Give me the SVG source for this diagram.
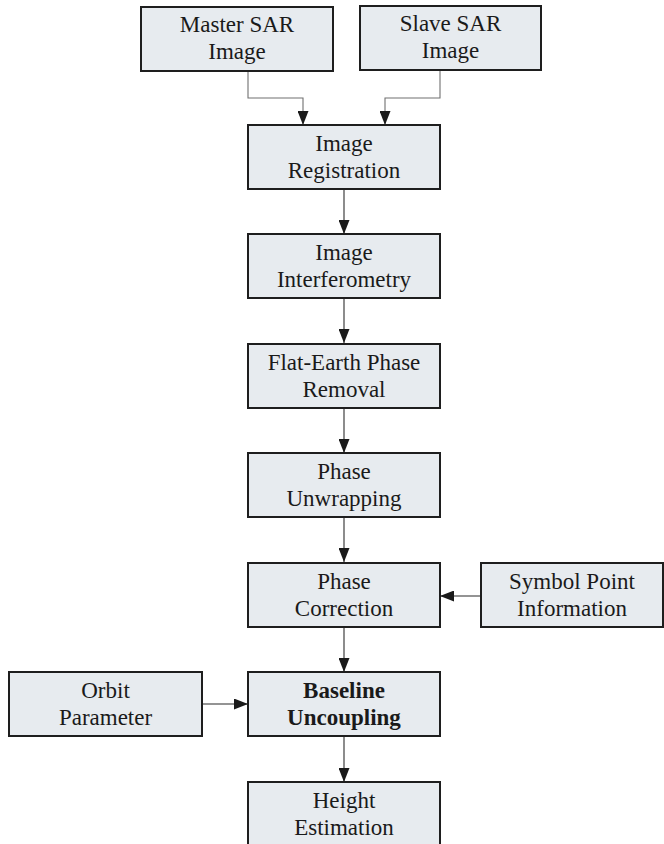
<svg xmlns="http://www.w3.org/2000/svg" width="664" height="844" viewBox="0 0 664 844">
<style>
.box{fill:#e7ebef;stroke:#1e1e1e;stroke-width:2}
.t{font-family:"Liberation Serif","Times New Roman",serif;font-size:23px;fill:#1a1a1a;text-anchor:middle}
.b{font-weight:bold}
.c{fill:none;stroke:#707070;stroke-width:1.6}
.c1{fill:none;stroke:#707070;stroke-width:1.1}
</style>
<defs>
<marker id="ah" markerWidth="14" markerHeight="11" refX="14" refY="5.5" orient="auto" markerUnits="userSpaceOnUse">
<path d="M0,0 L14,5.5 L0,11 Z" fill="#1a1a1a"/>
</marker>
</defs>
<rect width="664" height="844" fill="#ffffff"/>
<g id="connectors">
<path class="c1" d="M248,71 V98 H303 V125" marker-end="url(#ah)"/>
<path class="c1" d="M440,70 V98 H385 V125" marker-end="url(#ah)"/>
<path class="c" d="M344,189 V234" marker-end="url(#ah)"/>
<path class="c" d="M344,298 V343" marker-end="url(#ah)"/>
<path class="c" d="M344,408 V453" marker-end="url(#ah)"/>
<path class="c" d="M344,517 V562" marker-end="url(#ah)"/>
<path class="c" d="M344,627 V672" marker-end="url(#ah)"/>
<path class="c" d="M344,736 V782" marker-end="url(#ah)"/>
<path class="c" d="M481,596 H440" marker-end="url(#ah)"/>
<path class="c" d="M202,704 H248" marker-end="url(#ah)"/>
</g>
<g id="master">
<rect class="box" x="141" y="7" width="192" height="64"/>
<text class="t" x="237" y="32">Master SAR</text>
<text class="t" x="237" y="59">Image</text>
</g>
<g id="slave">
<rect class="box" x="360" y="6" width="181" height="64"/>
<text class="t" x="450.5" y="31">Slave SAR</text>
<text class="t" x="450.5" y="58">Image</text>
</g>
<g id="registration">
<rect class="box" x="248" y="125" width="192" height="64"/>
<text class="t" x="344" y="151">Image</text>
<text class="t" x="344" y="178">Registration</text>
</g>
<g id="interferometry">
<rect class="box" x="248" y="234" width="192" height="64"/>
<text class="t" x="344" y="260">Image</text>
<text class="t" x="344" y="287">Interferometry</text>
</g>
<g id="flatearth">
<rect class="box" x="248" y="344" width="192" height="64"/>
<text class="t" x="344" y="370">Flat-Earth Phase</text>
<text class="t" x="344" y="397">Removal</text>
</g>
<g id="unwrapping">
<rect class="box" x="248" y="453" width="192" height="64"/>
<text class="t" x="344" y="479">Phase</text>
<text class="t" x="344" y="506">Unwrapping</text>
</g>
<g id="correction">
<rect class="box" x="248" y="563" width="192" height="64"/>
<text class="t" x="344" y="589">Phase</text>
<text class="t" x="344" y="616">Correction</text>
</g>
<g id="symbol">
<rect class="box" x="481" y="563" width="182" height="64"/>
<text class="t" x="572" y="589">Symbol Point</text>
<text class="t" x="572" y="616">Information</text>
</g>
<g id="orbit">
<rect class="box" x="9" y="672" width="193" height="64"/>
<text class="t" x="105.5" y="698">Orbit</text>
<text class="t" x="105.5" y="725">Parameter</text>
</g>
<g id="baseline">
<rect class="box" x="248" y="672" width="192" height="64"/>
<text class="t b" x="344" y="698">Baseline</text>
<text class="t b" x="344" y="725">Uncoupling</text>
</g>
<g id="height">
<rect class="box" x="248" y="782" width="192" height="70"/>
<text class="t" x="344" y="808">Height</text>
<text class="t" x="344" y="835">Estimation</text>
</g>
</svg>
